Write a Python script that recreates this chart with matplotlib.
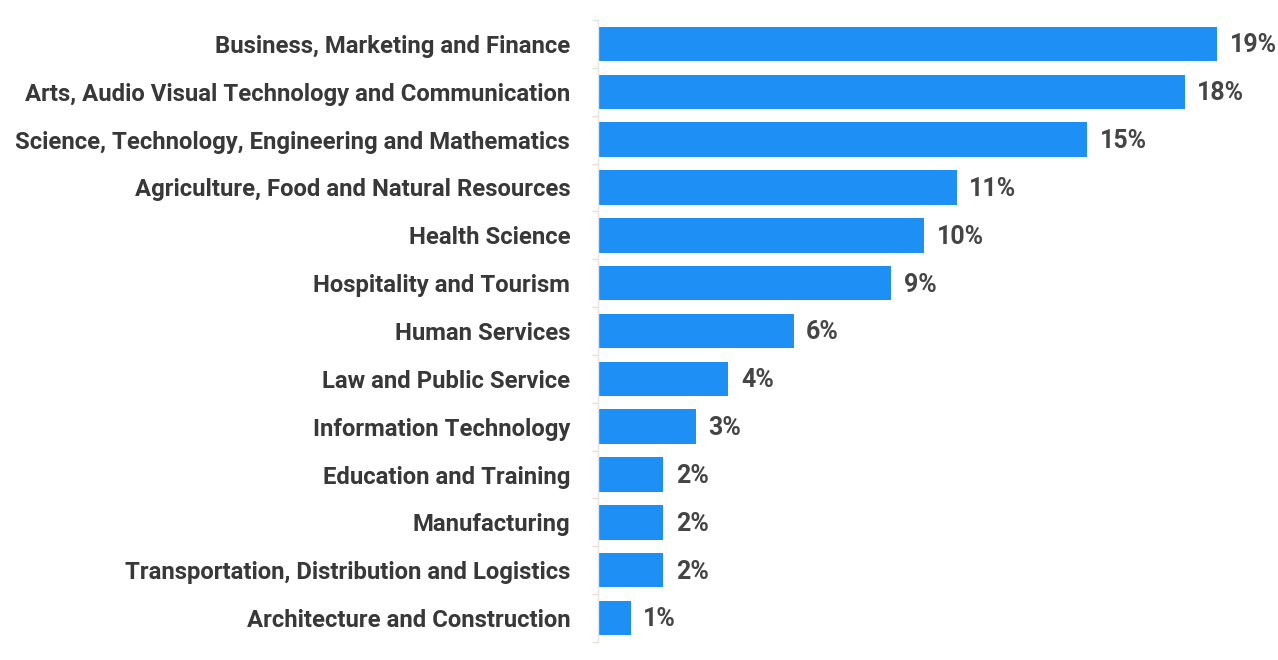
import matplotlib
matplotlib.use("Agg")
import matplotlib.pyplot as plt
import numpy as np

categories = [
    "Business, Marketing and Finance",
    "Arts, Audio Visual Technology and Communication",
    "Science, Technology, Engineering and Mathematics",
    "Agriculture, Food and Natural Resources",
    "Health Science",
    "Hospitality and Tourism",
    "Human Services",
    "Law and Public Service",
    "Information Technology",
    "Education and Training",
    "Manufacturing",
    "Transportation, Distribution and Logistics",
    "Architecture and Construction",
]
shares = [19, 18, 15, 11, 10, 9, 6, 4, 3, 2, 2, 2, 1]

plt.rcParams["font.family"] = ["Roboto", "DejaVu Sans"]

fig = plt.figure(figsize=(12.78, 6.60), dpi=100)
ax = fig.add_axes([598 / 1278, 1 - 642 / 660, 652 / 1278, 622 / 660])

y = np.arange(len(categories))
ax.barh(y, shares, height=0.72, color="#1e90f5")
ax.set_ylim(len(categories) - 0.5, -0.5)
ax.set_xlim(0, 20)

for yi, v in zip(y, shares):
    ax.annotate(f"{v}%", (v, yi), xytext=(9, -1), textcoords="offset points",
                va="center", ha="left", fontsize=18, fontweight="bold", color="#454545")

ax.set_yticks(y)
ax.set_yticklabels(categories, fontsize=17.2, fontweight="bold", color="#383838")
ax.tick_params(axis="y", which="major", length=0, pad=20)
ax.set_yticks(np.arange(-0.5, len(categories), 1), minor=True)
ax.tick_params(axis="y", which="minor", length=4, color="#eadfd2", width=1)
ax.set_xticks([])

for side in ("top", "right", "bottom"):
    ax.spines[side].set_visible(False)
ax.spines["left"].set_color("#e8e4df")
ax.spines["left"].set_linewidth(1)

fig.savefig("out.png", dpi=100, facecolor="white")
